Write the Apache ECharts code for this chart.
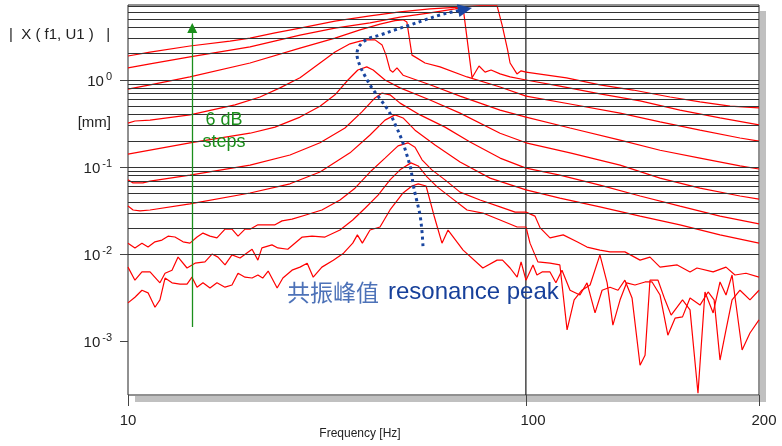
<!DOCTYPE html>
<html>
<head>
<meta charset="utf-8">
<script src="https://cdn.jsdelivr.net/npm/echarts@6/dist/echarts.min.js"></script>
<style>
  html, body { margin: 0; padding: 0; background: #fff; }
  #chart { width: 782px; height: 446px; }
</style>
</head>
<body>
<div id="chart"></div>
<script>
// Displacement response |X(f1,U1)| for ten drive levels, 6 dB apart.
// Each point: [frequency in Hz, displacement level in dB re 1 mm].
const curve1 = [[10,5.5],[11.36,6.4],[14.31,7.8],[18.04,8.9],[20.26,9.6],[23.41,10.8],[27.05,11.9],[33.12,13.5],[40.56,14.7],[48.25,15.6],[57.39,16.3],[68.28,16.7],[76.66,17.0],[84.6,17.0],[87.1,12.6],[89.9,6.9],[91.2,3.9],[94.9,1.4],[97.2,2.1],[100,1.8],[112.8,0.5],[124.6,-1.1],[137.5,-2.3],[153.5,-3.9],[167.8,-5.0],[183.5,-6.0],[200,-6.4]];
const curve2 = [[10,2.8],[11.36,3.7],[14.31,5.3],[20.26,7.6],[27.05,10.3],[33.12,11.9],[40.56,13.1],[48.25,14.4],[57.39,15.4],[66.33,16.3],[69.5,16.6],[73.2,0.5],[76.2,3.2],[78.91,1.8],[81.7,2.3],[86.07,1.4],[91.2,0.7],[100,0],[110.6,-1.4],[124.6,-3.2],[140.4,-4.8],[158.1,-6.9],[178.1,-8.7],[200,-10.3]];
const curve3 = [[10,-2.1],[11.36,-1.1],[14.31,0.7],[20.26,3.9],[27.05,7.3],[33.12,9.6],[38.28,11.5],[42.97,12.8],[46.87,13.6],[49.1,13.8],[50.2,13.3],[51.7,5.7],[52.62,5.3],[55.76,3.9],[60.81,3.0],[71.1,0.7],[86.07,-1.6],[100,-3.7],[114.0,-5.5],[132.3,-7.6],[149.0,-9.6],[167.8,-11.5],[189.0,-13.3],[200,-14.0]];
const curve4 = [[10,-9.9],[10.41,-9.4],[11.36,-9.2],[14.31,-8.0],[18.57,-5.7],[21.46,-3.9],[24.09,-1.8],[27.05,0.5],[30.37,3.9],[33.12,6.4],[36.12,8.3],[38.28,8.9],[39.8,9.2],[41.75,9.2],[43.5,8.0],[44.5,5.7],[45.53,2.3],[46.3,1.8],[47.4,2.8],[49.1,1.1],[57.39,-1.1],[68.28,-3.7],[86.07,-6.9],[100,-8.5],[114.0,-11.0],[132.3,-13.8],[149.0,-16.1],[167.8,-17.9],[189.0,-19.7],[200,-20.4]];
const curve5 = [[10,-17.0],[14.31,-14.4],[20.26,-12.2],[23.41,-10.8],[27.05,-8.5],[30.37,-6.0],[33.12,-3.4],[35.7,0],[37.8,2.3],[39.8,3.0],[41.3,2.3],[44.23,0],[48.25,-1.8],[57.39,-4.6],[68.28,-7.6],[86.07,-12.2],[100,-14.4],[114.0,-16.7],[132.3,-19.5],[149.0,-22.5],[167.8,-24.8],[189.0,-26.6],[200,-27.3]];
const curve6 = [[10,-22.9],[10.3,-23.6],[10.9,-23.6],[11.36,-23.2],[14.31,-21.8],[20.26,-19.5],[25.53,-17.2],[30.37,-14.4],[35.09,-11.0],[38.7,-7.3],[41.75,-4.1],[43.5,-3.0],[45.53,-3.4],[48.25,-5.3],[54.17,-8.0],[62.6,-10.8],[72.35,-14.2],[86.07,-17.9],[100,-20.2],[110.6,-21.8],[124.6,-24.1],[140.4,-26.6],[158.1,-28.9],[178.1,-31.2],[200,-33.0]];
const curve7 = [[10,-28.9],[10.3,-29.8],[10.72,-30.0],[11.36,-29.8],[14.31,-28.4],[20.26,-25.9],[25.53,-23.8],[30.37,-21.1],[36.12,-16.7],[40.56,-12.6],[44.23,-9.2],[46.87,-8.0],[49.1,-8.7],[52.62,-11.5],[59.08,-14.9],[68.28,-18.8],[81.23,-22.5],[100,-25.2],[110.6,-27.1],[124.6,-29.1],[140.4,-31.2],[158.1,-33.2],[178.1,-35.5],[200,-37.4]];
const curve8 = [[10,-37.4],[10.41,-38.5],[10.84,-37.4],[11.23,-38.3],[11.69,-37.1],[12.17,-36.7],[12.61,-35.8],[13.12,-36.0],[13.75,-37.1],[14.31,-37.4],[14.91,-36.0],[15.43,-35.1],[16.07,-35.8],[16.73,-36.2],[17.53,-34.2],[18.25,-34.2],[18.9,-35.8],[19.68,-34.2],[20.26,-34.2],[21.2,-33.2],[23.41,-33.2],[24.38,-32.3],[25.83,-31.9],[27.84,-31.0],[30.7,-29.8],[34.09,-27.5],[37.18,-24.8],[40.56,-21.1],[44.23,-17.9],[47.7,-15.1],[50.5,-14.4],[52.62,-15.4],[54.8,-18.3],[58.0,-20.6],[62.6,-22.9],[68.28,-25.7],[76.66,-27.5],[86.07,-29.1],[93.9,-30.3],[100,-30.3],[102.7,-31.2],[104.3,-33.9],[107.4,-36.2],[111.7,-35.5],[116.4,-37.1],[119.9,-38.3],[124.6,-39.0],[128.4,-39.4],[134.2,-39.4],[140.4,-41.3],[144.6,-40.6],[149.0,-42.9],[156.8,-42.4],[162.9,-44.0],[166.3,-43.1],[174.5,-44.0],[181.3,-42.9],[186.2,-44.7],[192.4,-44.3],[200,-45.2]];
const curve9 = [[10,-42.9],[10.41,-45.9],[10.84,-44.0],[11.36,-44.0],[12.03,-46.5],[12.39,-44.3],[12.9,-43.6],[13.36,-40.6],[14.07,-43.1],[14.74,-42.0],[15.61,-41.7],[16.26,-39.9],[16.83,-40.6],[17.53,-42.4],[18.25,-40.1],[19.12,-40.8],[20.5,-38.8],[21.2,-41.3],[21.7,-38.5],[23.0,-37.8],[23.8,-38.5],[25.2,-38.8],[27.4,-36.0],[29.0,-35.8],[31.26,-36.0],[34.09,-34.4],[36.7,-32.1],[39.4,-29.4],[42.5,-26.4],[45.53,-22.9],[48.25,-20.6],[51.4,-19.0],[53.6,-19.7],[56.4,-22.2],[59.8,-24.5],[64.44,-26.8],[71.1,-29.8],[77.9,-30.5],[86.07,-32.1],[95.0,-33.7],[100,-33.7],[101.2,-37.4],[103.6,-41.7],[107.4,-42.0],[110.6,-42.4],[113.0,-57.3],[115.4,-50.4],[118.1,-48.2],[121.0,-47.0],[124.6,-40.1],[127.3,-46.5],[129.5,-56.2],[132.3,-50.4],[134.9,-46.5],[138.3,-47.0],[142.5,-46.3],[145.5,-46.3],[149.0,-49.3],[152.5,-58.5],[155.8,-54.6],[159.3,-54.3],[162.9,-50.0],[167.8,-51.6],[171.9,-48.6],[175.0,-50.4],[178.1,-64.2],[181.3,-57.3],[184.6,-50.4],[189.0,-48.2],[194.7,-50.4],[200,-48.2]];
const curve10 = [[10,-51.1],[10.41,-49.8],[10.84,-48.2],[11.23,-48.8],[11.69,-52.1],[12.03,-50.4],[12.39,-45.4],[12.9,-46.5],[13.51,-46.8],[14.07,-46.8],[14.48,-45.2],[14.91,-47.5],[15.43,-46.5],[16.07,-47.7],[16.73,-46.5],[17.53,-47.5],[18.25,-47.0],[18.9,-44.3],[19.68,-45.2],[20.5,-45.4],[21.2,-44.7],[21.8,-45.4],[22.5,-43.8],[23.7,-47.7],[24.5,-45.4],[25.83,-43.6],[27.05,-42.9],[28.2,-42.0],[29.2,-45.2],[30.7,-42.9],[32.8,-41.3],[34.8,-39.7],[36.7,-37.4],[37.7,-35.5],[38.8,-37.4],[40.56,-34.4],[42.97,-33.7],[45.53,-29.8],[49.1,-25.9],[51.7,-24.3],[53.6,-23.8],[56.1,-24.3],[58.7,-31.0],[61.5,-37.4],[63.7,-34.4],[69.5,-39.0],[77.9,-43.1],[84.6,-41.3],[87.3,-41.3],[91.2,-43.1],[95.0,-45.2],[97.2,-41.7],[100,-45.9],[102.1,-42.4],[103.3,-44.7],[104.9,-44.0],[107.4,-44.0],[109.3,-46.5],[111.3,-43.6],[114.0,-48.2],[117.4,-49.3],[119.9,-46.5],[122.8,-53.4],[125.4,-48.2],[128.4,-47.5],[131.5,-48.2],[134.2,-45.9],[137.1,-50.0],[140.4,-65.4],[142.5,-63.1],[144.6,-45.9],[148.1,-45.9],[151.2,-50.4],[154.0,-53.9],[159.3,-50.4],[162.9,-52.7],[166.8,-71.8],[170.3,-48.6],[174.5,-53.4],[178.1,-46.3],[181.3,-49.3],[184.6,-44.7],[190.2,-61.9],[194.7,-58.0],[200,-55.0]];
const curves = [curve1, curve2, curve3, curve4, curve5, curve6, curve7, curve8, curve9, curve10];

// Trajectory of the resonance peak as the drive level rises (same units).
const peakPath = [[55.1,-38.1],[54.8,-34.9],[54.17,-31.0],[53.1,-27.5],[52.1,-24.1],[51.4,-20.6],[50.2,-17.2],[48.8,-13.8],[47.1,-10.5],[45.3,-7.3],[43.2,-4.6],[41.0,-1.8],[39.4,0.9],[38.1,3.7],[37.6,6.0],[38.3,8.0],[40.0,9.4],[42.97,10.3],[46.87,11.5],[51.12,12.6],[55.76,13.8],[60.81,14.9],[65.2,15.6],[70.28,16.2]];
// Drive-level arrow: frequency and the two level ends (dB re 1 mm).
const stepArrowFreq = 14.5;
const stepArrowLevels = [-56.6, 11.9];

// Axis ranges and labelled ticks.
const freqLow = [10, 100];
const freqHigh = [100, 200];
const lowFreqTicks = [10, 100];
const highFreqTicks = [200];
const ampRange = [2.45e-4, 7.24];       // mm
const ampDecades = [0.001, 0.01, 0.1, 1];
const gridMultipliers = [1, 2, 3, 4, 5, 6, 7, 8, 9];

const mm = db => Math.pow(10, db / 20);
const toPoints = (pts, lo, hi) => pts.filter(p => p[0] >= lo && p[0] <= hi).map(p => [p[0], mm(p[1])]);

// Horizontal grid: every 1..9 multiple of each decade inside the range.
const gridValues = [];
[1e-4, 1e-3, 1e-2, 1e-1, 1].forEach(d => gridMultipliers.forEach(m => {
  const v = +(d * m).toPrecision(3);
  if (v > ampRange[0] && v < ampRange[1]) gridValues.push(v);
}));

const FONT = '"Liberation Sans", Arial, sans-serif';
const RED = '#ff0000';
const GREEN = '#1b8f1b';
const BLUE = '#1a46a0';

const gridLineSeries = idx => ({
  type: 'line', xAxisIndex: idx, yAxisIndex: idx, data: [], silent: true, z: 1,
  markLine: {
    silent: true, symbol: 'none', label: { show: false }, animation: false,
    lineStyle: { color: '#333', width: 1, type: 'solid' },
    emphasis: { disabled: true },
    data: gridValues.map(v => ({ yAxis: v }))
  }
});

const series = [gridLineSeries(0), gridLineSeries(1)];
curves.forEach((c, i) => {
  [[freqLow, 0], [freqHigh, 1]].forEach(([range, idx]) => {
    series.push({
      name: 'level ' + (i + 1), type: 'line', xAxisIndex: idx, yAxisIndex: idx,
      data: toPoints(c, range[0], range[1]), showSymbol: false, symbol: 'none',
      lineStyle: { color: RED, width: 1.2 }, z: 3, silent: true, clip: true
    });
  });
});

// Resonance-peak trajectory, dotted with an arrow head at its end.
series.push({
  type: 'line', xAxisIndex: 0, yAxisIndex: 0, smooth: 0.35, silent: true, z: 5,
  data: peakPath.map((p, i) => i === peakPath.length - 1
    ? { value: [p[0], mm(p[1])], symbol: 'triangle', symbolSize: [13, 14], symbolRotate: -79 }
    : { value: [p[0], mm(p[1])], symbol: 'none' }),
  showSymbol: true, showAllSymbol: true,
  itemStyle: { color: BLUE },
  lineStyle: { color: BLUE, width: 3, type: [3, 3.5], cap: 'butt' }
});

// Drive-level arrow.
series.push({
  type: 'line', xAxisIndex: 0, yAxisIndex: 0, data: [], silent: true, z: 4,
  markLine: {
    silent: true, animation: false, label: { show: false },
    symbol: ['none', 'triangle'], symbolSize: [10, 10],
    lineStyle: { color: GREEN, width: 1.3, type: 'solid' },
    emphasis: { disabled: true },
    data: [[{ coord: [stepArrowFreq, mm(stepArrowLevels[0])] }, { coord: [stepArrowFreq, mm(stepArrowLevels[1])] }]]
  }
});

const tickText = { fontSize: 15, color: '#222', fontFamily: FONT };

const chart = echarts.init(document.getElementById('chart'));
chart.setOption({
  animation: false,
  backgroundColor: '#fff',
  grid: [
    { left: 128, top: 5, width: 398, height: 390, show: true, borderColor: '#222', borderWidth: 1, backgroundColor: '#fff' },
    { left: 526, top: 5, width: 233, height: 390, show: true, borderColor: '#222', borderWidth: 1, backgroundColor: '#fff' }
  ],
  xAxis: [
    { type: 'log', gridIndex: 0, min: freqLow[0], max: freqLow[1],
      axisLine: { show: false }, splitLine: { show: false },
      axisTick: { customValues: lowFreqTicks, length: 11, lineStyle: { color: '#444' } },
      axisLabel: { customValues: lowFreqTicks, margin: 18, ...tickText,
        formatter: v => v >= 100 ? '{r|' + v + '}' : String(v),
        rich: { r: { ...tickText, padding: [0, 0, 0, 14] } } } },
    { type: 'log', gridIndex: 1, min: freqHigh[0], max: freqHigh[1],
      axisLine: { show: false }, splitLine: { show: false },
      axisTick: { customValues: highFreqTicks, length: 11, lineStyle: { color: '#444' } },
      axisLabel: { customValues: highFreqTicks, margin: 18, ...tickText,
        formatter: v => '{r|' + v + '}',
        rich: { r: { ...tickText, padding: [0, 0, 0, 10] } } } }
  ],
  yAxis: [
    { type: 'log', gridIndex: 0, min: ampRange[0], max: ampRange[1],
      axisLine: { show: false }, splitLine: { show: false },
      axisTick: { customValues: ampDecades, length: 8, lineStyle: { color: '#444' } },
      axisLabel: {
        customValues: ampDecades, margin: 16, color: '#222',
        formatter: v => '{b|10}{s|' + Math.round(Math.log10(v)) + '}',
        rich: {
          b: { fontSize: 15, fontFamily: FONT, color: '#222', lineHeight: 18, verticalAlign: 'bottom' },
          s: { fontSize: 11, fontFamily: FONT, color: '#222', lineHeight: 18, verticalAlign: 'top', padding: [0, 0, 0, 2] }
        }
      } },
    { type: 'log', gridIndex: 1, min: ampRange[0], max: ampRange[1], show: false,
      axisLine: { show: false }, splitLine: { show: false } }
  ],
  graphic: [
    // drop shadow of the plot frame
    { type: 'rect', shape: { x: 760, y: 11, width: 6, height: 391 }, style: { fill: '#c0c0c0' }, silent: true },
    { type: 'rect', shape: { x: 135, y: 396, width: 625, height: 6 }, style: { fill: '#c0c0c0' }, silent: true },
    { type: 'text', x: 9, y: 35, silent: true, z: 10,
      style: { text: '|  X ( f1, U1 )   |', font: '15px ' + FONT, fill: '#222', textVerticalAlign: 'middle' } },
    { type: 'text', x: 111, y: 123, silent: true, z: 10,
      style: { text: '[mm]', font: '15px ' + FONT, fill: '#222', textAlign: 'right', textVerticalAlign: 'middle' } },
    { type: 'text', x: 360, y: 434, silent: true, z: 10,
      style: { text: 'Frequency [Hz]', font: '12px ' + FONT, fill: '#222', textAlign: 'center', textVerticalAlign: 'middle' } },
    { type: 'text', x: 224, y: 131, silent: true, z: 10,
      style: { text: '6 dB\nsteps', font: '18px ' + FONT, lineHeight: 22, fill: GREEN, textAlign: 'center', textVerticalAlign: 'middle' } },
    { type: 'text', x: 287, y: 292, silent: true, z: 10,
      style: { text: '共振峰值', font: '23px "Noto Sans CJK SC", sans-serif', fill: '#4d72b8', textVerticalAlign: 'middle' } },
    { type: 'text', x: 388, y: 292, silent: true, z: 10,
      style: { text: 'resonance peak', font: '24px ' + FONT, fill: '#17409a', textVerticalAlign: 'middle' } }
  ],
  series: series
});
</script>
</body>
</html>
